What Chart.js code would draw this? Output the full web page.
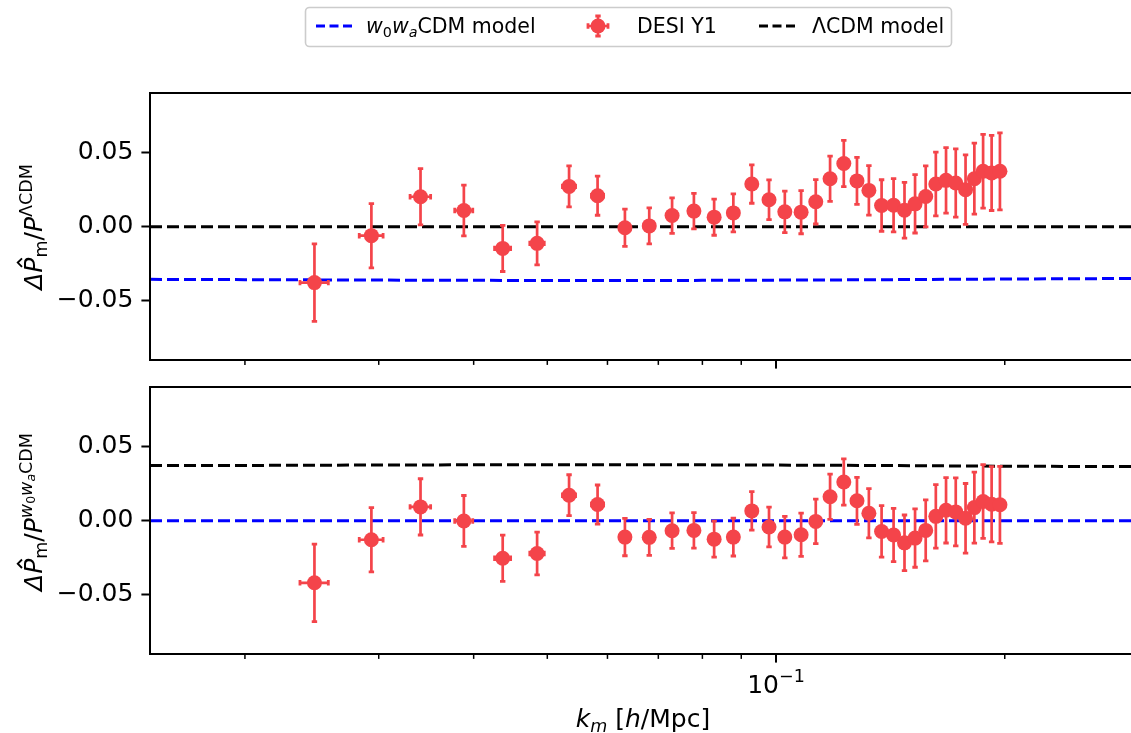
<!DOCTYPE html>
<html><head><meta charset="utf-8">
<script src="https://cdn.jsdelivr.net/npm/chart.js@4.4.1/dist/chart.umd.min.js"></script>
<style>
html,body{margin:0;padding:0;background:#fff;}
#wrap{position:relative;width:1131px;height:733px;overflow:hidden;background:#fff;}
canvas{position:absolute;left:0;}
#cA{top:0;width:1140px;height:378px;}
#cB{top:372px;width:1140px;height:361px;}
</style></head><body>
<div id="wrap"><canvas id="cA" width="1140" height="378"></canvas><canvas id="cB" width="1140" height="361"></canvas></div>
<script>
// ---------------- data ----------------
const kBins=[0.02469,0.02934,0.03405,0.03883,0.04368,0.04848,0.05341,0.05823,0.06326,0.06810,0.07298,0.07797,0.08290,0.08787,0.09292,0.09790,0.1027,0.1079,0.1128,0.1178,0.1228,0.1278,0.1325,0.1377,0.1428,0.1476,0.1524,0.1574,0.1623,0.1674,0.1724,0.1776,0.1824,0.1873,0.1922,0.1971];
const xErr=[0.00106,0.00106,0.00106,0.00106,0.00106,0.00106,0.00106,0.00106,0.00106,0.00106,0.00106,0.00106,0.00106,0.00106,0.00106,0.00106,0.00106,0.00106,0.00106,0.00106,0.00106,0.00106,0.00106,0.00106,0.00106,0.00106,0.00106,0.00106,0.00106,0.00106,0.00106,0.00106,0.00106,0.00106,0.00106,0.00106];
const ratioLCDM=[-0.0378,-0.0061,0.0202,0.0109,-0.0147,-0.0113,0.0272,0.0209,-0.0007,0.0005,0.0075,0.0105,0.0064,0.0093,0.0288,0.0182,0.0100,0.0098,0.0168,0.0324,0.0427,0.0309,0.0245,0.0143,0.0145,0.0111,0.0154,0.0204,0.0288,0.0313,0.0295,0.0250,0.0324,0.0374,0.0363,0.0374];
const ratioW0Wa=[-0.0420,-0.0129,0.0093,-0.0002,-0.0254,-0.0222,0.0172,0.0109,-0.0111,-0.0113,-0.0068,-0.0066,-0.0125,-0.0111,0.0066,-0.0043,-0.0111,-0.0095,-0.0005,0.0161,0.0261,0.0134,0.0050,-0.0073,-0.0097,-0.0150,-0.0118,-0.0066,0.0029,0.0070,0.0059,0.0016,0.0088,0.0129,0.0111,0.0107];
const yErr=[0.0262,0.0217,0.0190,0.0172,0.0156,0.0145,0.0138,0.0132,0.0126,0.0122,0.0120,0.0120,0.0122,0.0128,0.0130,0.0134,0.0140,0.0146,0.0150,0.0153,0.0156,0.0159,0.0167,0.0174,0.0180,0.0188,0.0197,0.0206,0.0215,0.0221,0.0230,0.0235,0.0240,0.0249,0.0254,0.0260];
const kModel=[0.015,0.02,0.03,0.05,0.08,0.12,0.2,0.3];
const lcdmTop=[0,0,0,0,0,0,0,0];
const w0waTop=[-0.0356,-0.0358,-0.0361,-0.0364,-0.0363,-0.0360,-0.0354,-0.0350];
const w0waBottom=[0,0,0,0,0,0,0,0];
const lcdmBottom=[0.0372,0.0373,0.0376,0.0378,0.0377,0.0374,0.0368,0.0365];
const xTickVals=[0.02,0.03,0.04,0.05,0.06,0.07,0.08,0.09,0.1,0.2];
const xMajorVals=[0.1];
const yTickVals=[-0.05,0,0.05];
const yTickLabels=['\u22120.05','0.00','0.05'];

const RED='#f4444a', BLUE='#0000ff', BLACK='#000000';
const FONT='"DejaVu Sans", sans-serif';
const S_AX=25;

// ---------------- rich text helper ----------------
function fOf(s,S){const sz=(s.l==='sub'||s.l==='sup')?S*0.7:(s.l==='ss'?S*0.5:S);return (s.it?'italic ':'')+sz.toFixed(2)+'px '+FONT;}
function dyOf(s,S){return s.l==='sub'?0.2*S:(s.l==='sup'?-0.42*S:(s.l==='ss'?-0.28*S:0));}
function richW(ctx,segs,S){let w=0;for(const s of segs){ctx.font=fOf(s,S);w+=ctx.measureText(s.t).width;}return w;}
function drawRich(ctx,segs,x,y,S,align,rot){
  ctx.save();ctx.translate(x,y);if(rot)ctx.rotate(rot);
  ctx.fillStyle='#000';ctx.strokeStyle='#000';ctx.textAlign='left';ctx.textBaseline='alphabetic';
  const w=richW(ctx,segs,S);let cx=align==='left'?0:-w/2;
  for(const s of segs){ctx.font=fOf(s,S);const sw=ctx.measureText(s.t).width;ctx.fillText(s.t,cx,dyOf(s,S));
    if(s.hat){const hx=cx+sw*0.5+0.1*S,hy=-0.80*S;ctx.lineWidth=0.075*S;ctx.beginPath();ctx.moveTo(hx-0.17*S,hy);ctx.lineTo(hx,hy-0.17*S);ctx.lineTo(hx+0.17*S,hy);ctx.stroke();}
    cx+=sw;}
  ctx.restore();
}

function pts(xs,ys){return xs.map((x,i)=>({x:x,y:ys[i]}));}

// ---------------- plugins ----------------
const errPlugin={id:'errbars',beforeDatasetDraw(chart,args){
  const ds=chart.data.datasets[args.index];if(!ds.errY)return;
  const ctx=chart.ctx,xs=chart.scales.x,ys=chart.scales.y;
  ctx.save();ctx.strokeStyle=RED;ctx.lineCap='butt';
  ds.data.forEach((p,i)=>{
    const px=xs.getPixelForValue(p.x),py=ys.getPixelForValue(p.y);
    const y1=ys.getPixelForValue(p.y+ds.errY[i]),y2=ys.getPixelForValue(p.y-ds.errY[i]);
    const x1=xs.getPixelForValue(p.x-ds.errX[i]),x2=xs.getPixelForValue(p.x+ds.errX[i]);
    ctx.lineWidth=2.7;ctx.beginPath();ctx.moveTo(px,y1);ctx.lineTo(px,y2);ctx.moveTo(x1,py);ctx.lineTo(x2,py);ctx.stroke();
    ctx.lineWidth=2.8;ctx.beginPath();
    ctx.moveTo(px-2.7,y1);ctx.lineTo(px+2.7,y1);ctx.moveTo(px-2.7,y2);ctx.lineTo(px+2.7,y2);
    ctx.moveTo(x1,py-2.7);ctx.lineTo(x1,py+2.7);ctx.moveTo(x2,py-2.7);ctx.lineTo(x2,py+2.7);ctx.stroke();
  });
  ctx.restore();
}};

const framePlugin={id:'frame',afterDraw(chart){
  const ctx=chart.ctx,a=chart.chartArea,xs=chart.scales.x;
  ctx.save();ctx.strokeStyle='#000';ctx.lineWidth=2;ctx.strokeRect(a.left,a.top,a.right-a.left,a.bottom-a.top);
  xTickVals.forEach(v=>{const px=xs.getPixelForValue(v);const maj=xMajorVals.includes(v);
    ctx.lineWidth=maj?2:1.5;ctx.beginPath();ctx.moveTo(px,a.bottom);ctx.lineTo(px,a.bottom+(maj?8.6:4.9));ctx.stroke();});
  ctx.restore();
  const o=chart.options.plugins.extra||{};
  if(o.ylabel)drawRich(ctx,o.ylabel,o.ylx,o.yly,o.yls,'center',-Math.PI/2);
  if(o.xticklabel){xMajorVals.forEach(v=>drawRich(ctx,[{t:'10'},{t:'\u22121',l:'sup'}],xs.getPixelForValue(v),o.xtly,S_AX,'center'));}
  if(o.xlabel)drawRich(ctx,o.xlabel,o.xlx,o.xly,S_AX,'center');
  if(o.legend)drawLegend(ctx);
}};

function drawLegend(ctx){
  ctx.save();
  ctx.fillStyle='rgba(255,255,255,0.8)';ctx.strokeStyle='#cccccc';ctx.lineWidth=1.6;
  ctx.beginPath();ctx.roundRect(305.5,7.5,646,39,4);ctx.fill();ctx.stroke();
  const cy=26;
  ctx.lineWidth=2.8;ctx.setLineDash([9,4.5]);
  ctx.strokeStyle=BLUE;ctx.beginPath();ctx.moveTo(316,cy);ctx.lineTo(356,cy);ctx.stroke();
  ctx.strokeStyle=BLACK;ctx.beginPath();ctx.moveTo(759,cy);ctx.lineTo(799,cy);ctx.stroke();
  ctx.setLineDash([]);
  const mx=598;ctx.strokeStyle=RED;ctx.lineWidth=2.6;ctx.beginPath();
  ctx.moveTo(mx,cy-10);ctx.lineTo(mx,cy+10);ctx.moveTo(mx-10,cy);ctx.lineTo(mx+10,cy);ctx.stroke();
  ctx.lineWidth=2.8;ctx.beginPath();
  ctx.moveTo(mx-2.7,cy-10);ctx.lineTo(mx+2.7,cy-10);ctx.moveTo(mx-2.7,cy+10);ctx.lineTo(mx+2.7,cy+10);
  ctx.moveTo(mx-10,cy-2.7);ctx.lineTo(mx-10,cy+2.7);ctx.moveTo(mx+10,cy-2.7);ctx.lineTo(mx+10,cy+2.7);ctx.stroke();
  ctx.fillStyle=RED;ctx.beginPath();ctx.arc(mx,cy,7.5,0,Math.PI*2);ctx.fill();
  ctx.restore();
  const LS=20.5,by=33;
  drawRich(ctx,[{t:'w',it:1},{t:'0',l:'sub'},{t:'w',it:1},{t:'a',it:1,l:'sub'},{t:'CDM model'}],366,by,LS,'left');
  drawRich(ctx,[{t:'DESI Y1'}],637,by,LS,'left');
  drawRich(ctx,[{t:'\u039BCDM model'}],812,by,LS,'left');
}

function makeChart(id,dataY,blueY,blackY,padTop,xH,extra){
  return new Chart(document.getElementById(id),{
    type:'scatter',
    data:{datasets:[
      {type:'scatter',label:'DESI Y1',data:pts(kBins,dataY),errY:yErr,errX:xErr,pointRadius:7.5,pointHoverRadius:7.5,pointBackgroundColor:RED,pointBorderWidth:0,order:0},
      {type:'line',label:'w0waCDM model',data:pts(kModel,blueY),borderColor:BLUE,borderDash:[12,5],borderWidth:3,pointRadius:0,fill:false,order:1},
      {type:'line',label:'\u039BCDM model',data:pts(kModel,blackY),borderColor:BLACK,borderDash:[12,5],borderWidth:3,pointRadius:0,fill:false,order:2}
    ]},
    options:{responsive:false,animation:false,devicePixelRatio:1,
      layout:{padding:{left:0,right:2,top:padTop,bottom:0},autoPadding:false},
      plugins:{legend:{display:false},tooltip:{enabled:false},extra:extra},
      scales:{
        x:{type:'logarithmic',min:0.015,max:0.2995,
          afterBuildTicks:s=>{s.ticks=xTickVals.map(v=>({value:v}));},
          afterFit:s=>{s.height=xH;s.paddingLeft=0;s.paddingRight=0;s.paddingTop=0;s.paddingBottom=0;},
          ticks:{display:false},grid:{display:false},border:{display:false}},
        y:{type:'linear',min:-0.0901,max:0.0903,
          afterBuildTicks:s=>{s.ticks=yTickVals.map(v=>({value:v}));},
          afterFit:s=>{s.width=150;s.paddingTop=0;s.paddingBottom=0;s.paddingLeft=0;s.paddingRight=0;},
          ticks:{padding:8,color:'#000',font:{family:'DejaVu Sans',size:S_AX},callback:(v)=>{const i=yTickVals.indexOf(v);return i>=0?yTickLabels[i]:'';}},
          grid:{drawOnChartArea:false,drawTicks:true,tickLength:8.6,tickWidth:2,tickColor:'#000'},
          border:{display:false}}
      }
    },
    plugins:[errPlugin,framePlugin]
  });
}

const yLabTop=[{t:'\u0394',it:1},{t:'P',it:1,hat:1},{t:'m',l:'sub'},{t:'/'},{t:'P',it:1},{t:'\u039BCDM',l:'sup'}];
const yLabBot=[{t:'\u0394',it:1},{t:'P',it:1,hat:1},{t:'m',l:'sub'},{t:'/'},{t:'P',it:1},{t:'w',it:1,l:'sup'},{t:'0',l:'ss'},{t:'w',it:1,l:'sup'},{t:'a',it:1,l:'ss'},{t:'CDM',l:'sup'}];
const xLab=[{t:'k',it:1},{t:'m',it:1,l:'sub'},{t:' ['},{t:'h',it:1},{t:'/Mpc]'}];

makeChart('cA',ratioLCDM,w0waTop,lcdmTop,93,18,{ylabel:yLabTop,ylx:42,yly:227,yls:25,legend:true});
makeChart('cB',ratioW0Wa,w0waBottom,lcdmBottom,15,79,{ylabel:yLabBot,ylx:42,yly:140,yls:25,xticklabel:true,xtly:320.7,xlabel:xLab,xlx:643,xly:355});
</script>
</body></html>
